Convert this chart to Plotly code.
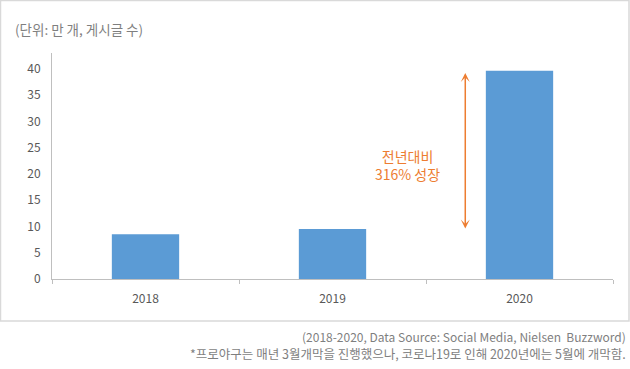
import plotly.graph_objects as go

years = ["2018", "2019", "2020"]
posts = [8.5, 9.5, 39.6]
y_ticks = [0, 5, 10, 15, 20, 25, 30, 35, 40]

FONT = "Noto Sans CJK KR, Malgun Gothic, sans-serif"
W, H = 630, 369
L, R, T, B = 52, 17, 53, 90
pw, ph = W - L - R, H - T - B


def px_x(px):
    return (px - L) / pw


def px_y(py):
    return (H - B - py) / ph


fig = go.Figure()
fig.add_trace(go.Bar(x=years, y=posts, marker=dict(color="#5B9BD5", line=dict(width=0)),
                     hoverinfo="x+y"))

fig.update_layout(
    width=W, height=H,
    margin=dict(l=L, r=R, t=T, b=B),
    plot_bgcolor="white", paper_bgcolor="white",
    bargap=0.64,
    showlegend=False,
    font=dict(family=FONT, size=12, color="#595959"),
    xaxis=dict(type="category", showline=True, linecolor="#bfbfbf", linewidth=1,
               ticks="outside", tickson="boundaries", ticklen=4, tickcolor="#bfbfbf",
               showgrid=False, tickfont=dict(size=12, color="#595959"), ticklabelstandoff=9),
    yaxis=dict(range=[0, 43], tickvals=y_ticks, showline=True, linecolor="#bfbfbf",
               linewidth=1, showgrid=False, zeroline=False, ticks="",
               tickfont=dict(size=12, color="#595959"), ticklabelstandoff=8),
)

# outer frame
fig.add_shape(type="rect", xref="paper", yref="paper",
              x0=px_x(0.5), x1=px_x(629), y0=px_y(321), y1=px_y(0.5),
              line=dict(color="#d9d9d9", width=1.5), fillcolor="rgba(0,0,0,0)", layer="below")

# unit label
fig.add_annotation(text="(단위: 만 개, 게시글 수)", xref="paper", yref="paper",
                   x=px_x(13), y=px_y(29), xanchor="left", yanchor="middle",
                   showarrow=False, font=dict(size=13.5, color="#7f7f7f", family=FONT))

# growth arrow between 2019 and 2020
arrow_x = 1.71
fig.add_annotation(x=arrow_x, y=posts[2] - 0.4, ax=arrow_x, ay=posts[1] - 0.2,
                   xref="x", yref="y", axref="x", ayref="y", text="",
                   showarrow=True, arrowhead=3, startarrowhead=3, arrowside="end+start",
                   arrowsize=1, startarrowsize=1, arrowwidth=1.5, arrowcolor="#ED7D31",
                   standoff=0, startstandoff=0)

fig.add_annotation(x=1.40, y=21.7, xref="x", yref="y",
                   text="전년대비<br>316% 성장", showarrow=False,
                   font=dict(size=14, color="#ED7D31", family=FONT), align="center")

# footnotes
note1 = "(2018-2020, Data Source: Social Media, Nielsen  Buzzword)"
note2 = "*프로야구는 매년 3월개막을 진행했으나, 코로나19로 인해 2020년에는 5월에 개막함."
fig.add_annotation(text=note1, xref="paper", yref="paper", x=px_x(627), y=px_y(336),
                   xanchor="right", yanchor="middle", showarrow=False, borderpad=0,
                   font=dict(size=12, color="#7f7f7f", family=FONT))
fig.add_annotation(text=note2, xref="paper", yref="paper", x=px_x(627), y=px_y(353.5),
                   xanchor="right", yanchor="middle", showarrow=False, borderpad=0,
                   font=dict(size=12.5, color="#7f7f7f", family=FONT))

fig.write_html("out.html", config={"displayModeBar": False},
               post_script="document.body.style.margin='0';")
